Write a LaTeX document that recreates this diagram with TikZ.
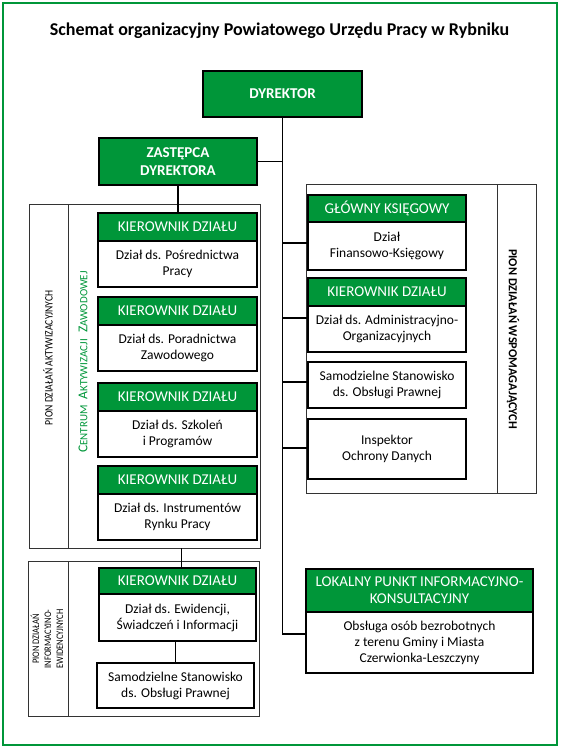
\documentclass[tikz,border=0pt]{standalone}
\usepackage{fontspec}
\setmainfont{Carlito}
\newfontfamily\narrowfont[FakeStretch=0.85]{Carlito}
\usetikzlibrary{positioning}
\definecolor{pupgreen}{RGB}{0,150,57}
\newcommand\fsc[2]{{\fontsize{13.5}{13.5}\selectfont #1}{\fontsize{11}{11}\selectfont #2}}
\newcommand\sidenode[4]{node[sidelabel, rotate=#2, #3] (#1) {#4}}
\tikzset{
  head/.style={draw, line width=1.6pt, fill=pupgreen, text=white, inner sep=0pt, outer sep=0pt,
    align=center, font=\fontsize{15}{17}\selectfont, minimum width=159pt, minimum height=28pt},
  boss/.style={head, anchor=north west, font=\bfseries\fontsize{15}{18}\selectfont},
  body/.style={draw, line width=1.6pt, fill=white, inner sep=0pt, outer sep=0pt,
    align=center, font=\fontsize{13.5}{16}\selectfont, minimum width=159pt, minimum height=46pt},
  frame/.style={draw=black!80, line width=0.8pt, inner sep=0pt, outer sep=0pt, anchor=north west},
  link/.style={line width=1.5pt},
  sidelabel/.style={font=\narrowfont\fontsize{11.4}{12}\selectfont, align=center, inner sep=0pt}
}

\begin{document}
\begin{tikzpicture}[x=1pt, y=-1pt]
    \useasboundingbox (0,0) rectangle (562,750);

    % Рамка и заголовок
    \draw [pupgreen, line width=1.5pt] (3,3) rectangle (557,745);
    \node [font=\bfseries\fontsize{18}{20}\selectfont, anchor=base] (title) at (279.5,35)
        {Schemat organizacyjny Powiatowego Urzędu Pracy w Rybniku};

    % Рамки пионов
    \node [frame, minimum width=231pt, minimum height=344pt] (pionA) at (29,204) {};
    \node [frame, minimum width=231pt, minimum height=155pt] (pionB) at (28,561) {};
    \node [frame, minimum width=230pt, minimum height=309pt] (pionC) at (306,184) {};
    \draw [draw=black!80, line width=0.8pt]
        ([xshift=39pt]pionA.north west) -- ([xshift=39pt]pionA.south west)
        ([xshift=40pt]pionB.north west) -- ([xshift=40pt]pionB.south west)
        ([xshift=191pt]pionC.north west) -- ([xshift=191pt]pionC.south west);

    % Руководство
    \node [boss, minimum height=46pt] (dyr) at (203,71) {DYREKTOR};
    \node [boss, minimum width=158pt, minimum height=47pt] (zas) at (99,138) {ZASTĘPCA\\DYREKTORA};

    % Пион активизации
    \node [head, anchor=north west] (k1h) at (98,213) {KIEROWNIK DZIAŁU};
    \node [body, below=0pt of k1h] (k1b) {Dział ds. Pośrednictwa\\Pracy};
    \node [head, anchor=north west] (k2h) at (98,297) {KIEROWNIK DZIAŁU};
    \node [body, below=0pt of k2h] (k2b) {Dział ds. Poradnictwa\\Zawodowego};
    \node [head, anchor=north west] (k3h) at (98,383) {KIEROWNIK DZIAŁU};
    \node [body, below=0pt of k3h] (k3b) {Dział ds. Szkoleń\\i Programów};
    \node [head, anchor=north west] (k4h) at (98,466) {KIEROWNIK DZIAŁU};
    \node [body, below=0pt of k4h] (k4b) {Dział ds. Instrumentów\\Rynku Pracy};

    % Пион информационно-эвиденционный
    \node [head, anchor=north west, minimum width=157pt, minimum height=26pt] (k5h) at (99,568) {KIEROWNIK DZIAŁU};
    \node [body, below=0pt of k5h, minimum width=157pt, minimum height=47pt] (k5b) {Dział ds. Ewidencji,\\Świadczeń i Informacji};
    \node [body, anchor=north west, minimum width=157pt, minimum height=45pt] (ss1) at (97,663) {Samodzielne Stanowisko\\ds. Obsługi Prawnej};

    % Пион вспомогательный
    \node [head, anchor=north west, minimum width=158pt, minimum height=27pt] (gkh) at (308,195) {GŁÓWNY KSIĘGOWY};
    \node [body, below=0pt of gkh, minimum width=158pt, minimum height=48pt] (gkb) {Dział\\Finansowo-Księgowy};
    \node [head, anchor=north west, minimum width=158pt] (kah) at (308,278) {KIEROWNIK DZIAŁU};
    \node [body, below=0pt of kah, minimum width=158pt] (kab) {Dział ds. Administracyjno-\\Organizacyjnych};
    \node [body, anchor=north west, minimum width=158pt] (ss2) at (308,362) {Samodzielne Stanowisko\\ds. Obsługi Prawnej};
    \node [body, anchor=north west, minimum width=158pt, minimum height=60pt] (iod) at (308,419) {Inspektor\\Ochrony Danych};

    % Локальный пункт
    \node [head, anchor=north west, minimum width=227pt, minimum height=43pt] (lph) at (306,569) {LOKALNY PUNKT INFORMACYJNO-\\KONSULTACYJNY};
    \node [body, below=0pt of lph, minimum width=227pt, minimum height=61pt] (lpb) {Obsługa osób bezrobotnych\\z terenu Gminy i Miasta\\Czerwionka-Leszczyny};

    % Связи
    \draw [link] (dyr.south) |- ([yshift=8.5pt]lpb.west);
    \draw [link] (zas.east) -- (zas.east -| dyr.south);
    \draw [link] (zas.south) -- (zas.south |- k1h.north);
    \foreach \n/\s in {gkb/3, kab/11, ss2/3, iod/1}
        \draw [link] ([yshift=\s pt]\n.west) -- ([yshift=\s pt]\n.west -| dyr.south);
    \draw [link] ([xshift=4pt]k5h.north) -- ([xshift=4pt]k5h.north |- pionA.south);
    \draw [link] (ss1.north) -- (ss1.north |- k5b.south);

    % Текстовые подписи
    \path
        (48,358) \sidenode{pionAlab}{90}{}{PION DZIAŁAŃ AKTYWIZACYJNYCH}
        (83,362) \sidenode{cazlab}{90}{text=pupgreen, font=\fontsize{11}{12}\selectfont}{\fsc{C}{ENTRUM}\hspace{6pt}\fsc{A}{KTYWIZACJI}\hspace{6pt}\fsc{Z}{AWODOWEJ}}
        (47,639) \sidenode{pionBlab}{90}{font=\narrowfont\fontsize{10}{12}\selectfont}{PION DZIAŁAŃ\\INFORMACYJNO-\\EWIDENCYJNYCH}
        (513,339) \sidenode{pionClab}{-90}{font=\bfseries\fontsize{12.3}{13}\selectfont}{PION DZIAŁAŃ WSPOMAGAJĄCYCH};
\end{tikzpicture}
\end{document}
